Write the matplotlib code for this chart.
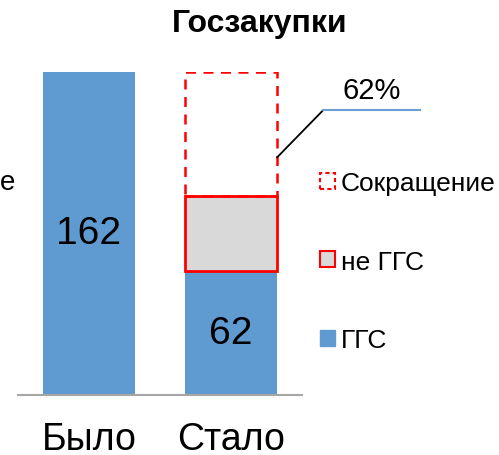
import matplotlib.pyplot as plt
from matplotlib.patches import Patch

plt.rcParams['font.family'] = ['Liberation Sans', 'DejaVu Sans']

categories = ['Было', 'Стало']
ggs = [162, 62]
ne_ggs = [0, 38]
cut = [0, 62]
cut_label = '62%'
title = 'Госзакупки'

blue = '#5F9BD0'
gray = '#D9D9D9'
red = '#FF0000'


def main():
    fig = plt.figure(figsize=(4.99, 4.56), dpi=100)
    ax = fig.add_axes([18 / 499, 1 - 396 / 456, 284 / 499, 323 / 456])

    x = range(len(categories))
    w = 0.65
    ax.bar(x, ggs, width=w, color=blue)
    ax.bar(x[1], ne_ggs[1], width=w, bottom=ggs[1], color=gray,
           edgecolor=red, linewidth=2)
    ax.bar(x[1], cut[1], width=w, bottom=ggs[1] + ne_ggs[1], fill=False,
           edgecolor=red, linewidth=1.8, linestyle=(0, (4, 3)))

    ax.text(0, ggs[0] / 2, str(ggs[0]), ha='center', va='center', fontsize=28)
    ax.text(1, ggs[1] / 2, str(ggs[1]), ha='center', va='center', fontsize=28)

    # leader line for the cut share
    top = ggs[1] + ne_ggs[1]
    x0 = 1 + w / 2
    y0 = top + cut[1] * 0.31
    x1 = 1.648
    y1 = top + cut[1] * 0.69
    ax.plot([x0, x1], [y0, y1], color='black', lw=1.3, clip_on=False)
    ax.plot([x1, 2.33], [y1, y1], color='#6A9FD4', lw=1.5, clip_on=False)
    ax.text(1.99, y1 + 3, cut_label, ha='center', va='bottom', fontsize=21)

    ax.set_xlim(-0.5, 1.5)
    ax.set_ylim(0, 162)
    ax.set_xticks(list(x))
    ax.set_xticklabels(categories, fontsize=27)
    ax.tick_params(axis='x', length=0, pad=19)
    ax.set_yticks([])
    for s in ['top', 'left', 'right']:
        ax.spines[s].set_visible(False)
    ax.spines['bottom'].set_color('#A6A6A6')
    ax.spines['bottom'].set_linewidth(1.5)

    fig.text(0.52, 1 - 24 / 456, title, ha='center', va='center',
             fontsize=23, fontweight='bold')
    fig.text(0, 1 - 183 / 456, 'е', ha='left', va='center', fontsize=20)

    handles = [
        Patch(facecolor='none', edgecolor=red, linestyle=(0, (2, 1.5)), linewidth=1.5,
              label='Сокращение'),
        Patch(facecolor=gray, edgecolor=red, linewidth=1.5, label='не ГГС'),
        Patch(facecolor=blue, edgecolor=blue, label='ГГС'),
    ]
    fig.legend(handles=handles, loc='upper left',
               bbox_to_anchor=(320 / 499, 1 - 172 / 456), frameon=False,
               fontsize=19, handlelength=0.55, handleheight=0.55,
               handletextpad=0.25, labelspacing=2.07, borderpad=0,
               borderaxespad=0)

    fig.savefig('out.png', dpi=100)


if __name__ == "__main__":
    main()
